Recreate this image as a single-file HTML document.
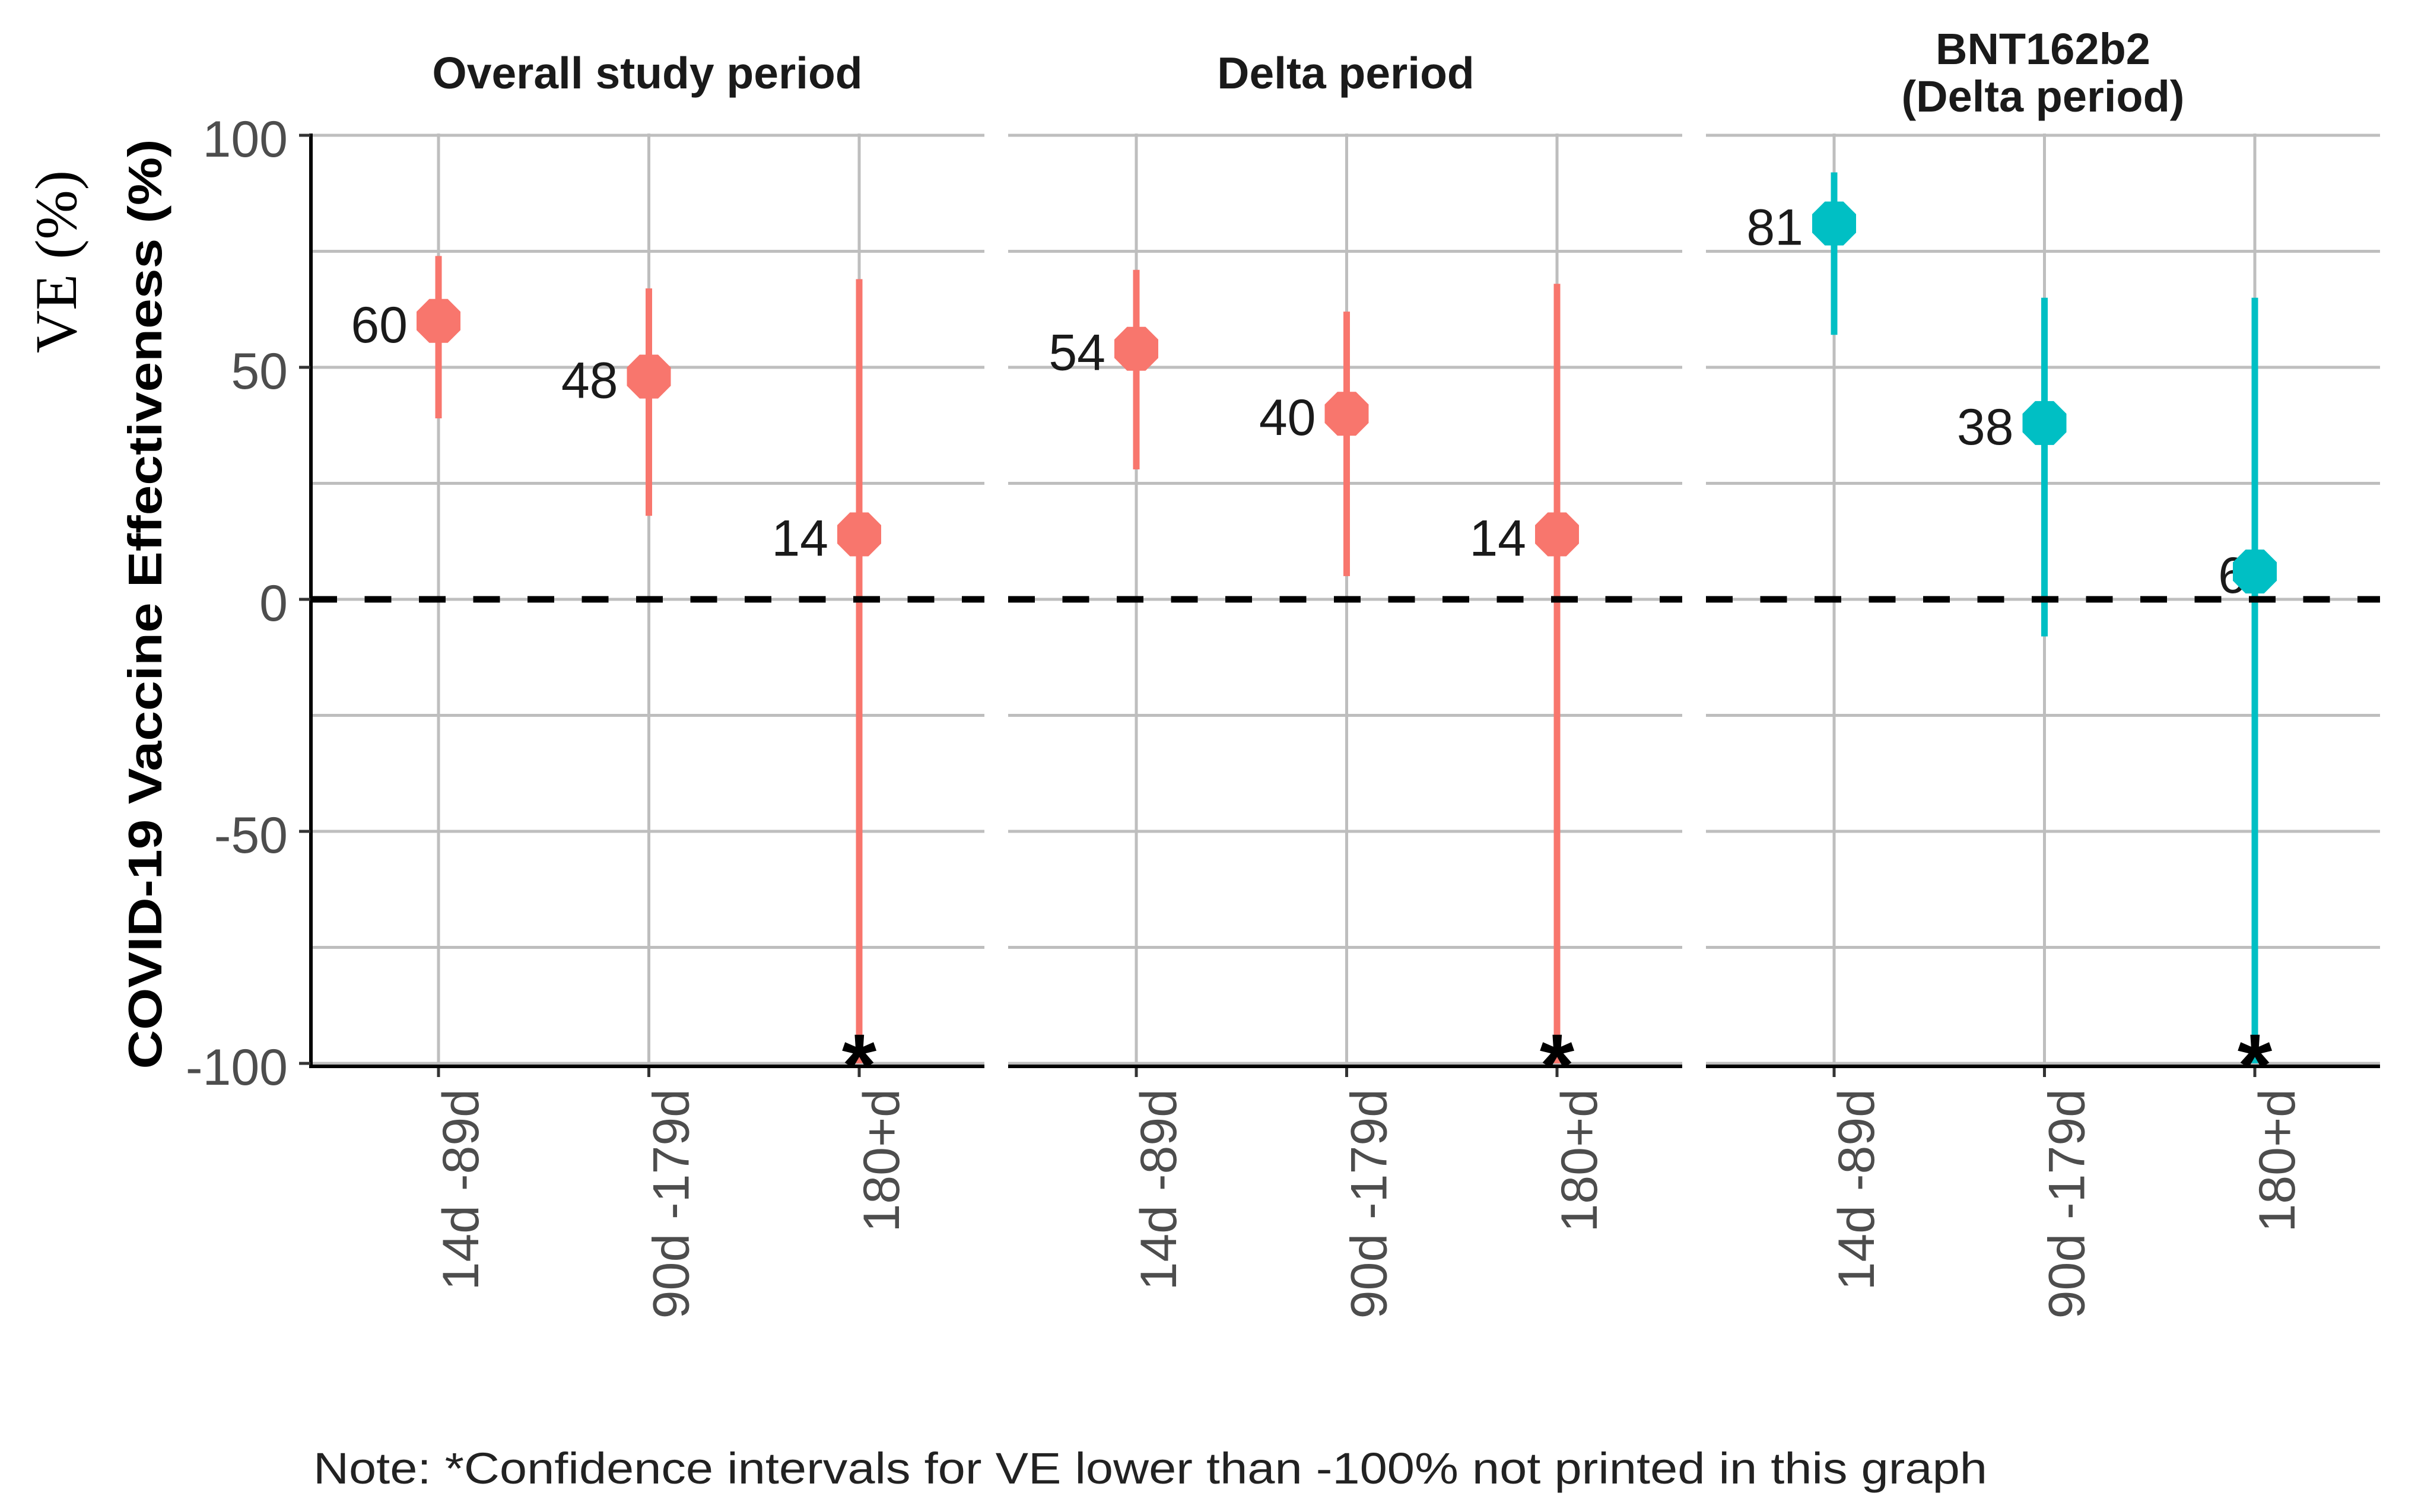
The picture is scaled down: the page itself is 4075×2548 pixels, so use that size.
<!DOCTYPE html>
<html><head><meta charset="utf-8"><style>
html,body{margin:0;padding:0;background:#fff;}
svg{display:block;}
</style></head><body>
<svg id="chart" width="4075" height="2548" viewBox="0 0 4075 2548" xmlns="http://www.w3.org/2000/svg" font-family="'Liberation Sans', sans-serif">
<rect x="0" y="0" width="4075" height="2548" fill="#fff"/>
<g id="grid"></g>
<g id="marks"></g>
<text x="1091" y="149" font-size="75" font-weight="bold" fill="#1a1a1a" text-anchor="middle">Overall study period</text>
<text x="2268" y="149" font-size="75" font-weight="bold" fill="#1a1a1a" text-anchor="middle">Delta period</text>
<text x="3443" y="108" font-size="74" font-weight="bold" fill="#1a1a1a" text-anchor="middle">BNT162b2</text>
<text x="3443" y="188" font-size="74" font-weight="bold" fill="#1a1a1a" text-anchor="middle">(Delta period)</text>
<text transform="translate(272,1018) rotate(-90)" font-size="80" font-weight="bold" fill="#000" text-anchor="middle" textLength="1567" lengthAdjust="spacingAndGlyphs">COVID-19 Vaccine Effectiveness (%)</text>
<text transform="translate(128,441) rotate(-90)" font-family="'Liberation Serif', serif" font-size="100" fill="#000" text-anchor="middle">VE (%)</text>
<text x="528" y="2500" font-size="74" fill="#222" textLength="2821" lengthAdjust="spacingAndGlyphs">Note: *Confidence intervals for VE lower than -100% not printed in this graph</text>
</svg>
<script>
const panels = ["Overall study period", "Delta period", "BNT162b2 (Delta period)"];
const categories = ["14d -89d", "90d -179d", "180+d"];
const estOverall = [60, 48, 14];
const lowOverall = [39, 18, -100];
const highOverall = [74, 67, 69];
const estDelta = [54, 40, 14];
const lowDelta = [28, 5, -100];
const highDelta = [71, 62, 68];
const estBnt = [81, 38, 6];
const lowBnt = [57, -8, -100];
const highBnt = [92, 65, 65];
const yTicks = [100, 50, 0, -50, -100];
const yMinor = [75, 25, -25, -75];

const NS = "http://www.w3.org/2000/svg";
const panelLeft = [523, 1699, 2875];
const panelW = 1136;
const Y0 = 228, Y1 = 1792, AX = 1797;
function yS(v){ return Y0 + (100 - v) * (Y1 - Y0) / 200; }
function xS(p, i){ return panelLeft[p] + 216 + i * 354.5; }
function mk(tag, attrs, parent){
  const e = document.createElementNS(NS, tag);
  for (const k in attrs) e.setAttribute(k, attrs[k]);
  parent.appendChild(e);
  return e;
}
const grid = document.getElementById("grid");
const marks = document.getElementById("marks");
const series = [
  {est: estOverall, lo: lowOverall, hi: highOverall, col: "#F8766D"},
  {est: estDelta, lo: lowDelta, hi: highDelta, col: "#F8766D"},
  {est: estBnt, lo: lowBnt, hi: highBnt, col: "#00BFC4"}
];
const gcol = "#bebebe";
for (let p = 0; p < 3; p++) {
  const L = panelLeft[p], R = L + panelW;
  yMinor.concat(yTicks).forEach(v => {
    const l = mk("line", {x1: L, x2: R, y1: yS(v), y2: yS(v), stroke: gcol, "stroke-width": 5}, grid);
    
    
  });
  categories.forEach((c, i) => {
    const x = xS(p, i);
    const l = mk("line", {x1: x, x2: x, y1: Y0 - 3, y2: AX, stroke: gcol, "stroke-width": 5}, grid);
    
    
    const t = mk("line", {x1: x, x2: x, y1: AX, y2: AX + 18, stroke: "#333", "stroke-width": 5}, grid);
    
    
    const tx = mk("text", {transform: `translate(${x + 67},1835) rotate(-90)`, "font-size": 86, fill: "#4d4d4d", "text-anchor": "end"}, grid);
    tx.textContent = c;
    
    
  });
  const ax = mk("line", {x1: L, x2: R, y1: AX, y2: AX, stroke: "#000", "stroke-width": 6}, grid);
  
  
}
const yl = mk("line", {x1: 524, x2: 524, y1: Y0 - 3, y2: AX + 3, stroke: "#000", "stroke-width": 6}, grid);


yTicks.forEach(v => {
  const t = mk("line", {x1: 504, x2: 523, y1: yS(v), y2: yS(v), stroke: "#333", "stroke-width": 5}, grid);
  
  
  const tx = mk("text", {x: 485, y: yS(v) + 36, "font-size": 86, fill: "#4d4d4d", "text-anchor": "end"}, grid);
  tx.textContent = String(v);
  
  
});

function octagon(cx, cy, r){
  const a = r * 0.42, pts = [];
  [[-a,-r],[a,-r],[r,-a],[r,a],[a,r],[-a,r],[-r,a],[-r,-a]].forEach(q => pts.push((cx+q[0])+","+(cy+q[1])));
  return pts.join(" ");
}
for (let p = 0; p < 3; p++) {
  const s = series[p];
  s.est.forEach((v, i) => {
    const x = xS(p, i);
    const lo = Math.max(s.lo[i], -100);
    const eb = mk("line", {x1: x, x2: x, y1: yS(s.hi[i]), y2: yS(lo), stroke: s.col, "stroke-width": 11}, marks);
    
    
  });
  const L = panelLeft[p];
  const z = mk("line", {x1: L, x2: L + panelW, y1: yS(0), y2: yS(0), stroke: "#000", "stroke-width": 11, "stroke-dasharray": "45 46.5"}, marks);
  
  
  s.est.forEach((v, i) => {
    const x = xS(p, i), y = yS(v);
    const lab = String(v);
    const lx = x - 52 + (lab.length === 1 ? 38 : 0);
    const t = mk("text", {x: lx, y: y + 36, "font-size": 86, fill: "#1a1a1a", "text-anchor": "end"}, marks);
    t.textContent = lab;
    
    
  });
  s.est.forEach((v, i) => {
    const x = xS(p, i), y = yS(v);
    const pt = mk("polygon", {points: octagon(x, y, 37), fill: s.col}, marks);
    
    
    if (s.lo[i] <= -100) {
      const a = mk("text", {x: x, y: yS(-100) + 55, "font-size": 150, "font-weight": "bold", fill: "#000", "text-anchor": "middle"}, marks);
      a.textContent = "*";
      
      
    }
  });
}
</script>
</body></html>
